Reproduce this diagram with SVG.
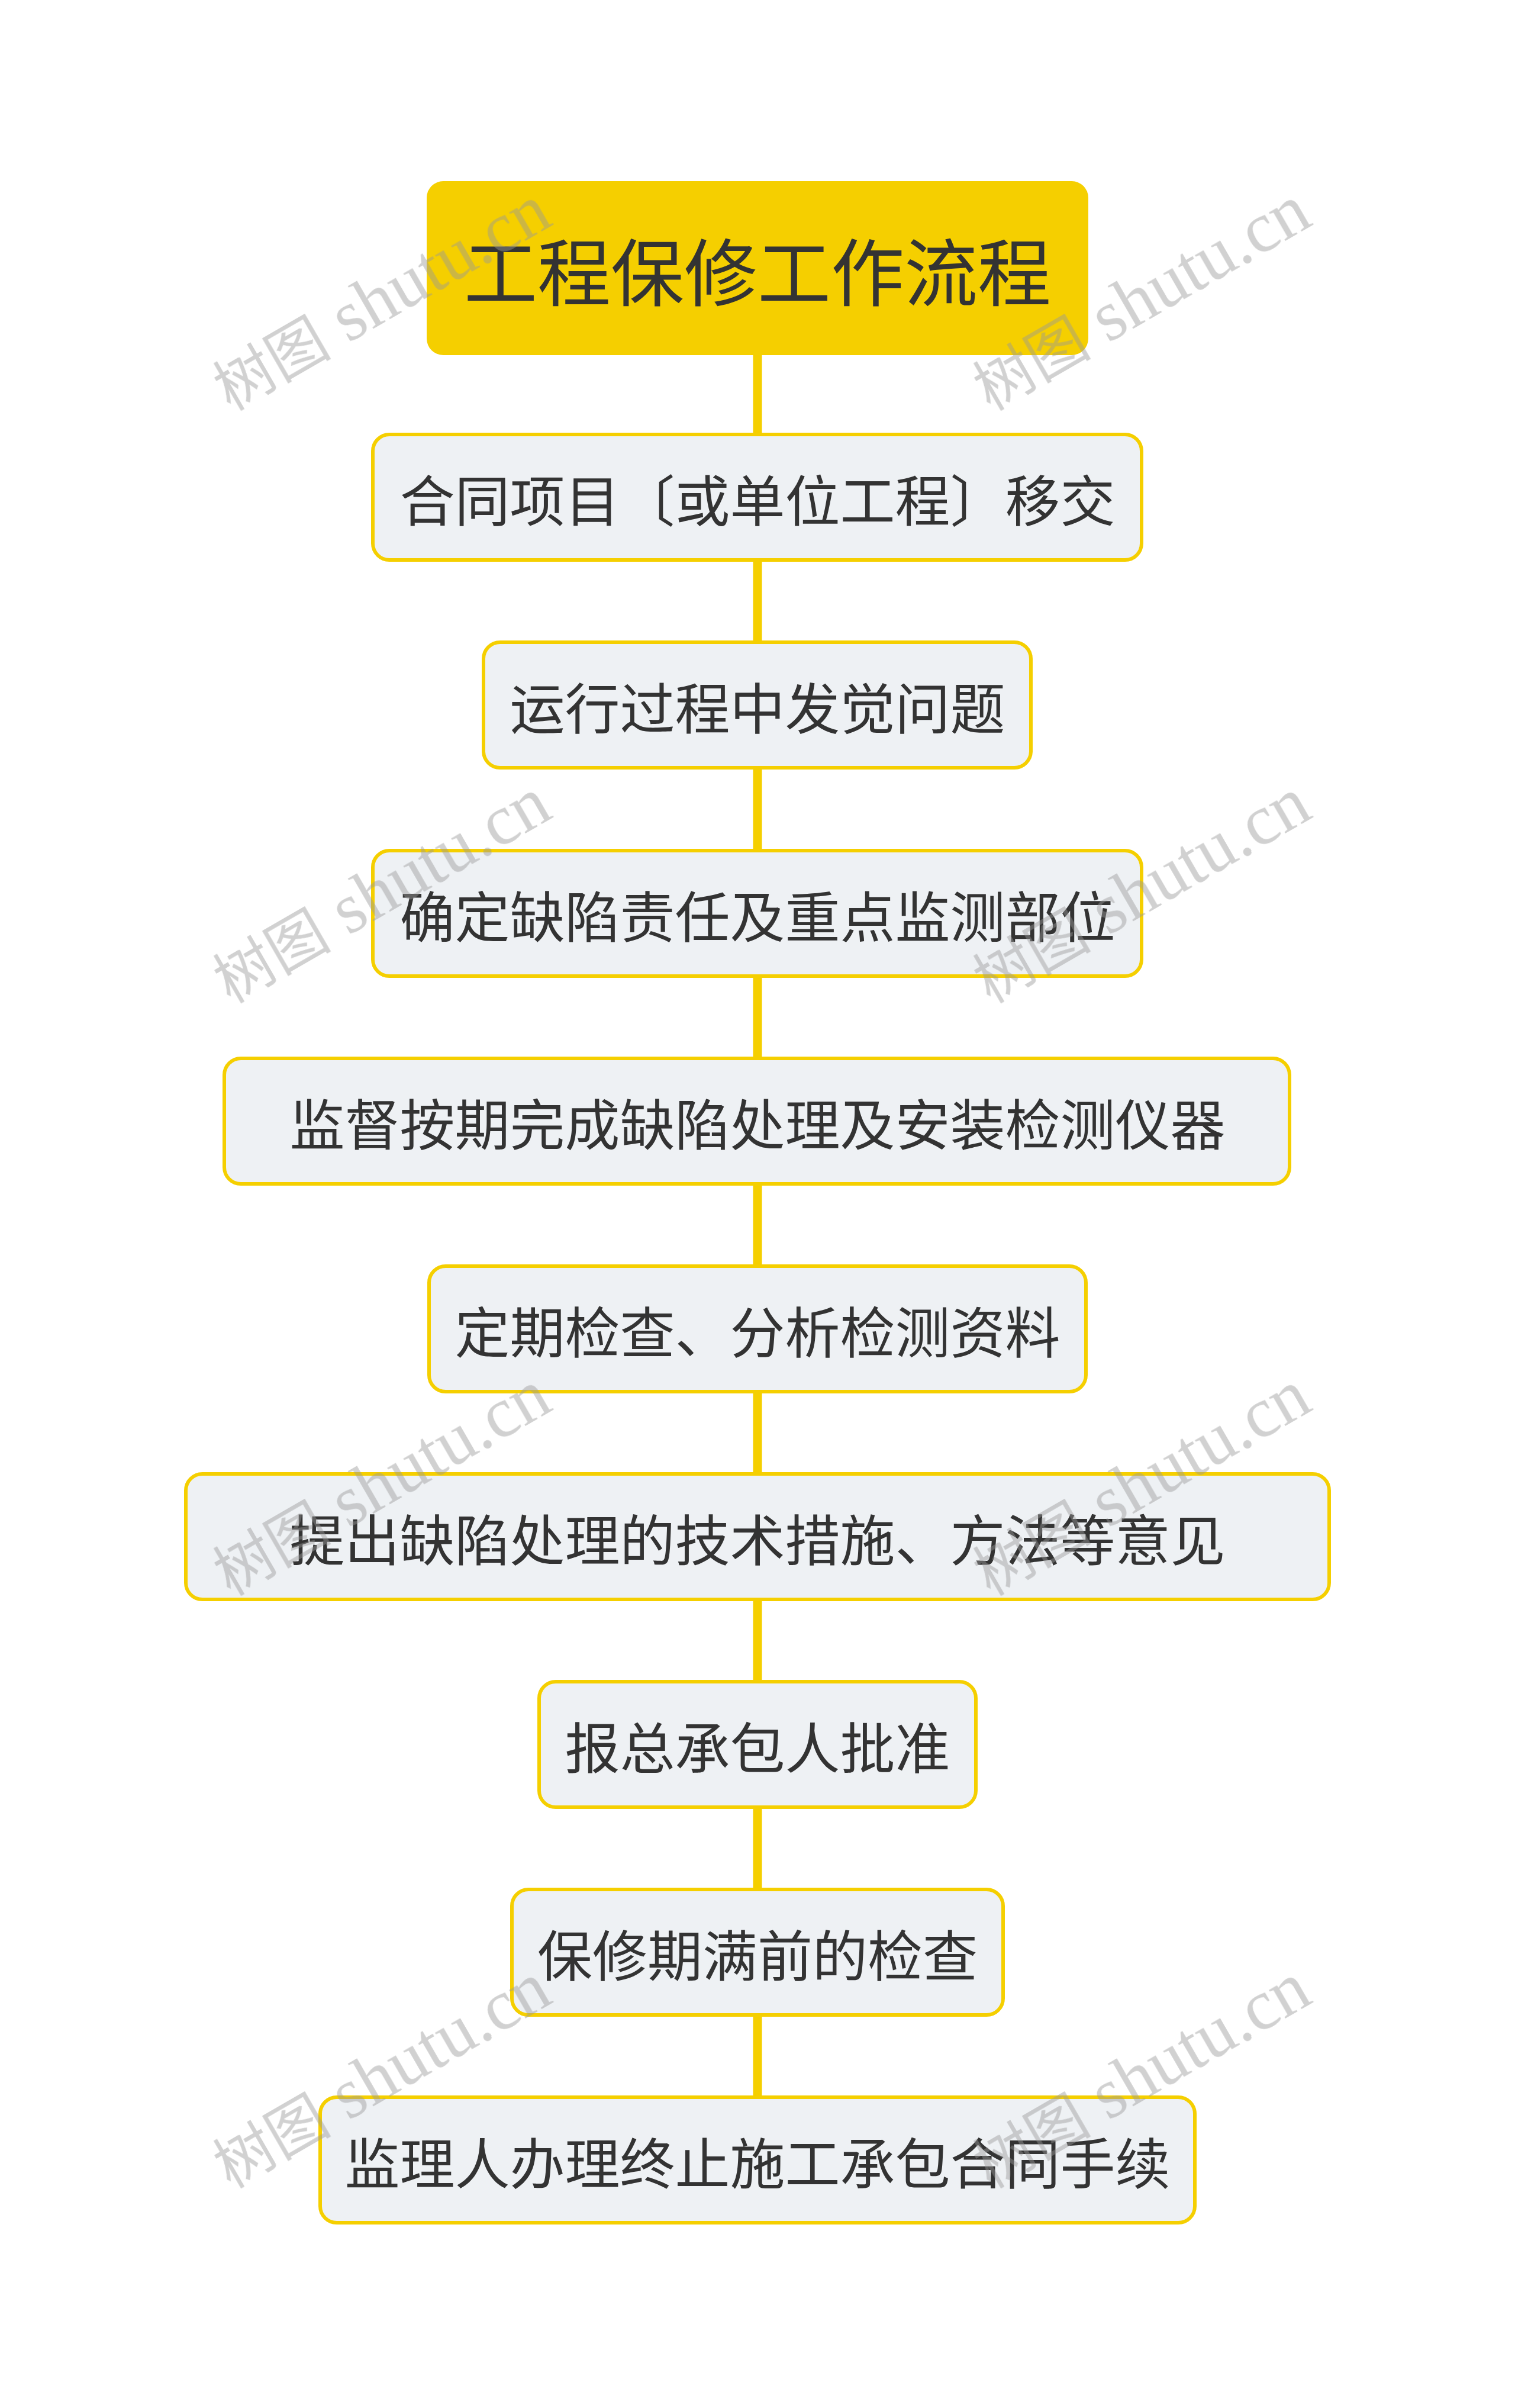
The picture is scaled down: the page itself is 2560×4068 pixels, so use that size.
<svg xmlns="http://www.w3.org/2000/svg" width="2560" height="4068" viewBox="0 0 2560 4068">
<style>
.bg{fill:#ffffff}
.root rect{fill:#F5CF00;stroke:none}
.node rect{fill:#EEF1F4;stroke:#F5CF00;stroke-width:6}
.t{font-family:"Noto Sans CJK SC","Noto Sans",sans-serif;fill:#333333;text-anchor:middle;dominant-baseline:central}
.tr{font-size:124px}
.tn{font-size:93px}
.conn line{stroke:#F5CF00;stroke-width:15}
.wm{font-family:"Liberation Serif","Noto Sans CJK SC",serif;fill:#999999;opacity:0.45;font-size:100px}
.wm .l{font-size:120px}
</style>
<rect class="bg" x="0" y="0" width="2560" height="4068"/>
<g id="connectors" class="conn">
<line x1="1280" y1="599" x2="1280" y2="734"/>
<line x1="1280" y1="946" x2="1280" y2="1085"/>
<line x1="1280" y1="1297" x2="1280" y2="1437"/>
<line x1="1280" y1="1649" x2="1280" y2="1788"/>
<line x1="1280" y1="2000" x2="1280" y2="2139"/>
<line x1="1280" y1="2351" x2="1280" y2="2490"/>
<line x1="1280" y1="2702" x2="1280" y2="2841"/>
<line x1="1280" y1="3053" x2="1280" y2="3192"/>
<line x1="1280" y1="3404" x2="1280" y2="3543"/>
</g>
<g id="root" class="root">
<rect x="721" y="306" width="1118" height="294" rx="28"/>
<text class="t tr" x="1280" y="453">工程保修工作流程</text>
</g>
<g id="n1" class="node">
<rect x="630" y="734" width="1299" height="212" rx="28"/>
<text class="t tn" x="1280" y="840">合同项目〔或单位工程〕移交</text>
</g>
<g id="n2" class="node">
<rect x="817" y="1085" width="925" height="212" rx="28"/>
<text class="t tn" x="1280" y="1191">运行过程中发觉问题</text>
</g>
<g id="n3" class="node">
<rect x="630" y="1437" width="1299" height="212" rx="28"/>
<text class="t tn" x="1280" y="1543">确定缺陷责任及重点监测部位</text>
</g>
<g id="n4" class="node">
<rect x="379" y="1788" width="1800" height="212" rx="28"/>
<text class="t tn" x="1280" y="1894">监督按期完成缺陷处理及安装检测仪器</text>
</g>
<g id="n5" class="node">
<rect x="725" y="2139" width="1110" height="212" rx="28"/>
<text class="t tn" x="1280" y="2245">定期检查、分析检测资料</text>
</g>
<g id="n6" class="node">
<rect x="314" y="2490" width="1932" height="212" rx="28"/>
<text class="t tn" x="1280" y="2596">提出缺陷处理的技术措施、方法等意见</text>
</g>
<g id="n7" class="node">
<rect x="911" y="2841" width="738" height="212" rx="28"/>
<text class="t tn" x="1280" y="2947">报总承包人批准</text>
</g>
<g id="n8" class="node">
<rect x="865" y="3192" width="830" height="212" rx="28"/>
<text class="t tn" x="1280" y="3298">保修期满前的检查</text>
</g>
<g id="n9" class="node">
<rect x="541" y="3543" width="1478" height="212" rx="28"/>
<text class="t tn" x="1280" y="3649">监理人办理终止施工承包合同手续</text>
</g>
<g id="watermarks" class="wm">
<text transform="translate(389,695) rotate(-30)">树图<tspan class="l"> shutu.cn</tspan></text>
<text transform="translate(1673,695) rotate(-30)">树图<tspan class="l"> shutu.cn</tspan></text>
<text transform="translate(389,1696) rotate(-30)">树图<tspan class="l"> shutu.cn</tspan></text>
<text transform="translate(1673,1696) rotate(-30)">树图<tspan class="l"> shutu.cn</tspan></text>
<text transform="translate(389,2697) rotate(-30)">树图<tspan class="l"> shutu.cn</tspan></text>
<text transform="translate(1673,2697) rotate(-30)">树图<tspan class="l"> shutu.cn</tspan></text>
<text transform="translate(389,3698) rotate(-30)">树图<tspan class="l"> shutu.cn</tspan></text>
<text transform="translate(1673,3698) rotate(-30)">树图<tspan class="l"> shutu.cn</tspan></text>
</g>
</svg>
